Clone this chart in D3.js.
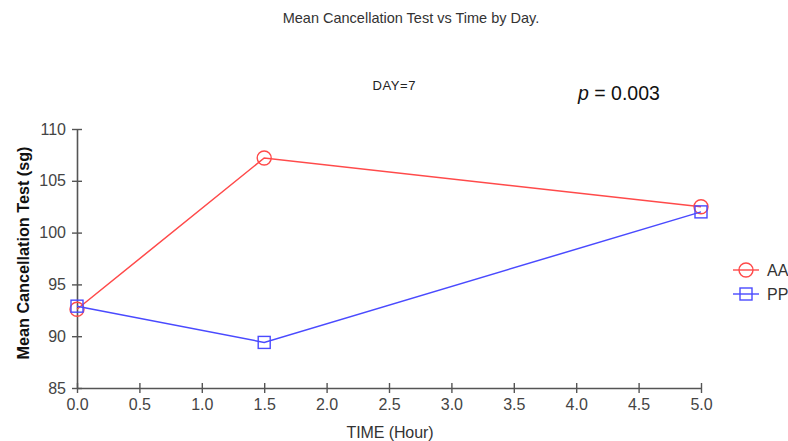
<!DOCTYPE html>
<html>
<head>
<meta charset="utf-8">
<script src="https://cdn.jsdelivr.net/npm/d3@7"></script>
<style>
  body { margin: 0; background: #fff; }
  text { font-family: "Liberation Sans", Arial, sans-serif; }
</style>
</head>
<body>
<div id="chart"></div>
<script>
// datos
const times = [0, 1.5, 5];
const aaValues = [92.6, 107.2, 102.5];
const ppValues = [92.9, 89.4, 102.0];
const seriesNames = ["AA", "PP"];
const xTicks = [0, 0.5, 1, 1.5, 2, 2.5, 3, 3.5, 4, 4.5, 5];
const yTicks = [85, 90, 95, 100, 105, 110];

const width = 788, height = 441;
const plotLeft = 77, plotRight = 701, plotTop = 129, plotBottom = 388;
const red = "#ff4a4a", blue = "#4a4aff";

const svg = d3.select("#chart").append("svg")
  .attr("width", width).attr("height", height);

const x = d3.scaleLinear().domain([0, 5]).range([plotLeft, plotRight]);
const y = d3.scaleLinear().domain([85, 110]).range([plotBottom, plotTop]);

// ejes
const xAxis = svg.append("g")
  .attr("transform", "translate(0," + plotBottom + ")")
  .call(d3.axisBottom(x).tickValues(xTicks).tickFormat(d3.format(".1f"))
    .tickSizeInner(5).tickSizeOuter(0).tickPadding(6));
const yAxis = svg.append("g")
  .attr("transform", "translate(" + plotLeft + ",0)")
  .call(d3.axisLeft(y).tickValues(yTicks).tickSizeInner(5).tickSizeOuter(0).tickPadding(6));

[xAxis, yAxis].forEach(function(g){
  g.select(".domain").attr("stroke", "#555").attr("stroke-width", 1.6);
  g.selectAll(".tick line").attr("stroke", "#555").attr("stroke-width", 1.4);
  g.selectAll(".tick text").attr("fill", "#444").attr("font-size", 16)
    .attr("font-family", "'Liberation Sans', Arial, sans-serif");
});
// marcas que cruzan el eje
xAxis.selectAll(".tick line").attr("y1", -5);
yAxis.selectAll(".tick line").attr("x1", 5);

// textos
svg.append("text").attr("x", 411).attr("y", 23).attr("text-anchor", "middle")
  .attr("font-size", 14.5).attr("fill", "#333")
  .text("Mean Cancellation Test vs Time by Day.");
svg.append("text").attr("x", 394).attr("y", 90).attr("text-anchor", "middle")
  .attr("font-size", 13).attr("fill", "#222").attr("textLength", 43)
  .text("DAY=7");
const pText = svg.append("text").attr("x", 578).attr("y", 100)
  .attr("font-size", 19.5).attr("fill", "#111");
pText.append("tspan").attr("font-style", "italic").text("p");
pText.append("tspan").text(" = 0.003");

svg.append("text").attr("x", 390).attr("y", 438).attr("text-anchor", "middle")
  .attr("font-size", 16).attr("fill", "#333").attr("textLength", 87)
  .text("TIME (Hour)");
svg.append("text")
  .attr("transform", "translate(29,253) rotate(-90)")
  .attr("text-anchor", "middle").attr("font-size", 16).attr("fill", "#111")
  .attr("font-weight", "bold").attr("textLength", 213)
  .attr("lengthAdjust", "spacingAndGlyphs")
  .text("Mean Cancellation Test (sg)");

// series
const series = [
  {name: seriesNames[0], values: aaValues, color: red, shape: "circle"},
  {name: seriesNames[1], values: ppValues, color: blue, shape: "square"}
];
const line = d3.line().x(function(d){ return x(d[0]); }).y(function(d){ return y(d[1]); });

function marker(g, shape, cx, cy, color){
  if (shape === "circle")
    g.append("circle").attr("cx", cx).attr("cy", cy).attr("r", 7)
      .attr("fill", "none").attr("stroke", color).attr("stroke-width", 1.4);
  else
    g.append("rect").attr("x", cx - 6).attr("y", cy - 6)
      .attr("width", 12).attr("height", 12)
      .attr("fill", "none").attr("stroke", color).attr("stroke-width", 1.4);
}

series.forEach(function(s){
  const pts = times.map(function(t, i){ return [t, s.values[i]]; });
  const g = svg.append("g");
  g.append("path").attr("d", line(pts)).attr("fill", "none")
    .attr("stroke", s.color).attr("stroke-width", 1.5);
  pts.forEach(function(p){ marker(g, s.shape, x(p[0]), y(p[1]), s.color); });
});

// leyenda
series.forEach(function(s, i){
  const ly = 270 + i * 24;
  const g = svg.append("g");
  g.append("line").attr("x1", 733).attr("x2", 759).attr("y1", ly).attr("y2", ly)
    .attr("stroke", s.color).attr("stroke-width", 1.4);
  marker(g, s.shape, 746, ly, s.color);
  g.append("text").attr("x", 767).attr("y", ly + 6).attr("font-size", 16)
    .attr("fill", "#333").text(s.name);
});
</script>
</body>
</html>
